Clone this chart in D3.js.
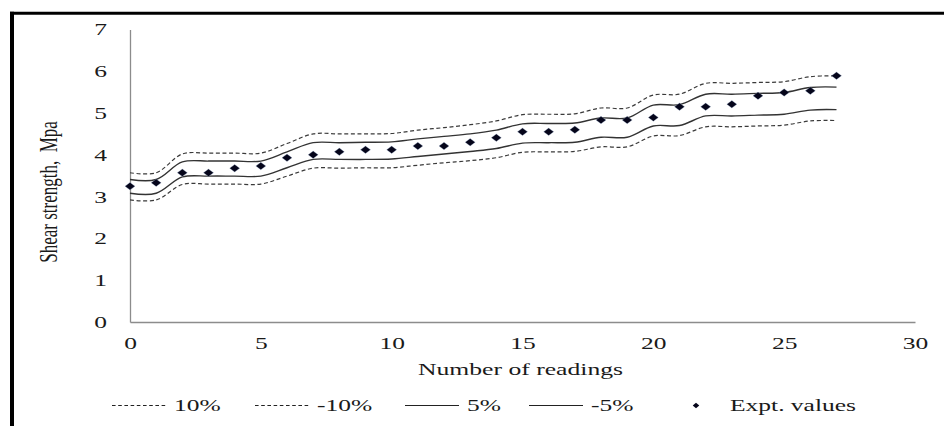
<!DOCTYPE html>
<html>
<head>
<meta charset="utf-8">
<script src="https://cdn.jsdelivr.net/npm/d3@7"></script>
<style>
  html, body { margin: 0; padding: 0; background: #fff; }
  svg { display: block; font-family: "Liberation Serif", "Times New Roman", serif; }
</style>
</head>
<body>
<main></main>
<script>
const readings = d3.range(0, 28);

const exptValues = [3.25, 3.33, 3.57, 3.57, 3.68, 3.73, 3.93, 4.0, 4.07, 4.12, 4.12, 4.21, 4.21, 4.3,
  4.41, 4.55, 4.55, 4.6, 4.83, 4.83, 4.89, 5.15, 5.15, 5.21, 5.41, 5.49, 5.53, 5.89];

const plus10 = [3.57, 3.57, 4.02, 4.04, 4.04, 4.04, 4.27, 4.50, 4.50, 4.50, 4.51, 4.59, 4.65, 4.72,
  4.81, 4.96, 4.97, 4.98, 5.12, 5.12, 5.43, 5.45, 5.71, 5.71, 5.73, 5.75, 5.87, 5.89];
const minus10 = [2.92, 2.92, 3.29, 3.30, 3.30, 3.30, 3.49, 3.68, 3.68, 3.69, 3.69, 3.75, 3.81, 3.86,
  3.93, 4.06, 4.07, 4.08, 4.19, 4.19, 4.45, 4.46, 4.67, 4.67, 4.69, 4.71, 4.81, 4.82];
const plus5 = [3.41, 3.41, 3.83, 3.85, 3.85, 3.85, 4.07, 4.29, 4.29, 4.30, 4.31, 4.38, 4.44, 4.50,
  4.59, 4.74, 4.75, 4.76, 4.88, 4.88, 5.19, 5.20, 5.45, 5.45, 5.47, 5.49, 5.61, 5.62];
const minus5 = [3.08, 3.08, 3.47, 3.49, 3.49, 3.49, 3.69, 3.89, 3.89, 3.89, 3.90, 3.96, 4.02, 4.08,
  4.15, 4.28, 4.29, 4.30, 4.42, 4.42, 4.69, 4.70, 4.93, 4.93, 4.95, 4.97, 5.07, 5.08];

const xTicks = [0, 5, 10, 15, 20, 25, 30];
const yTicks = [0, 1, 2, 3, 4, 5, 6, 7];

const legendItems = [
  { label: '10%', kind: 'dash', x: 112 },
  { label: '-10%', kind: 'dash', x: 255 },
  { label: '5%', kind: 'solid', x: 405 },
  { label: '-5%', kind: 'solid', x: 529 },
  { label: 'Expt. values', kind: 'diamond', x: 690 },
];

// the picture is stretched sideways, text follows that
const stretch = 1.5;

const dimensions = {
  width: 944,
  height: 426,
  margin: { top: 29.4, right: 29, bottom: 104, left: 130 },
};
dimensions.boundedWidth = dimensions.width - (dimensions.margin.left + dimensions.margin.right);
dimensions.boundedHeight = dimensions.height - (dimensions.margin.top + dimensions.margin.bottom);

const xScale = d3.scaleLinear()
  .domain([0, 30])
  .range([dimensions.margin.left, dimensions.margin.left + dimensions.boundedWidth]);
const yScale = d3.scaleLinear()
  .domain([0, 7])
  .range([dimensions.margin.top + dimensions.boundedHeight, dimensions.margin.top]);

const svg = d3.select('main')
  .append('svg')
  .attr('width', dimensions.width)
  .attr('height', dimensions.height)
  .attr('viewBox', [0, 0, dimensions.width, dimensions.height]);

// frame
svg.append('line')
  .attr('x1', 10).attr('x2', dimensions.width)
  .attr('y1', 13.3).attr('y2', 13.3)
  .attr('stroke', '#000').attr('stroke-width', 3);
svg.append('line')
  .attr('x1', 12).attr('x2', 12)
  .attr('y1', 11.8).attr('y2', dimensions.height)
  .attr('stroke', '#000').attr('stroke-width', 4);

// axes
const xAxis = d3.axisBottom(xScale).tickValues(xTicks).tickFormat(d3.format('d'))
  .tickSize(0).tickSizeOuter(0).tickPadding(14.5);
const yAxis = d3.axisLeft(yScale).tickValues(yTicks).tickFormat(d3.format('d'))
  .tickSize(0).tickSizeOuter(0).tickPadding(15.3);

const xAxisGroup = svg.append('g')
  .attr('transform', `translate(0 ${yScale(0)})`)
  .call(xAxis);
const yAxisGroup = svg.append('g')
  .attr('transform', `translate(${xScale(0)} 0)`)
  .call(yAxis);

[xAxisGroup, yAxisGroup].forEach(g => {
  g.attr('font-family', null).attr('font-size', 17);
  g.select('.domain').attr('stroke', '#8c8c8c').attr('stroke-width', 1.3);
  g.selectAll('.tick text')
    .attr('fill', '#1a1a1a')
    .attr('transform', `scale(${stretch} 1)`);
});

// band lines
const line = d3.line()
  .x((d, i) => xScale(readings[i]))
  .y(d => yScale(d))
  .curve(d3.curveCatmullRom.alpha(0.5));

const bands = [
  { values: plus10, dash: '4 2.6' },
  { values: minus10, dash: '4 2.6' },
  { values: plus5, dash: null },
  { values: minus5, dash: null },
];

svg.append('g')
  .selectAll('path')
  .data(bands)
  .enter()
  .append('path')
  .attr('fill', 'none')
  .attr('stroke', d => d.dash ? '#3a3a3a' : '#333')
  .attr('stroke-width', d => d.dash ? 1.2 : 1.4)
  .attr('stroke-dasharray', d => d.dash)
  .attr('d', d => line(d.values));

// expt points
const diamond = (w, h) => `M0 ${-h / 2} L${w / 2} 0 L0 ${h / 2} L${-w / 2} 0 Z`;

svg.append('g')
  .selectAll('path')
  .data(exptValues)
  .enter()
  .append('path')
  .attr('transform', (d, i) => `translate(${xScale(readings[i])} ${yScale(d)})`)
  .attr('d', diamond(10, 7.5))
  .attr('fill', '#05051a')
  .attr('stroke', '#9fb4d6')
  .attr('stroke-width', 0.5)
  .attr('stroke-opacity', 0.6);

// axis titles
svg.append('text')
  .attr('x', 418)
  .attr('y', 375)
  .attr('font-size', 17)
  .attr('fill', '#1a1a1a')
  .attr('textLength', 205)
  .attr('lengthAdjust', 'spacingAndGlyphs')
  .text('Number of readings');

svg.append('text')
  .attr('transform', `translate(57 192) rotate(-90) scale(1 ${stretch})`)
  .attr('text-anchor', 'middle')
  .attr('font-size', 17)
  .attr('fill', '#1a1a1a')
  .style('white-space', 'pre')
  .text('Shear strength,  Mpa');

// legend
const legendY = 411;
const legend = svg.append('g');
const legendGroups = legend.selectAll('g')
  .data(legendItems)
  .enter()
  .append('g')
  .attr('transform', d => `translate(${d.x} ${legendY})`);

legendGroups.filter(d => d.kind !== 'diamond')
  .append('line')
  .attr('x1', 0).attr('x2', 54)
  .attr('y1', -5.5).attr('y2', -5.5)
  .attr('stroke', '#222')
  .attr('stroke-width', 1)
  .attr('stroke-dasharray', d => d.kind === 'dash' ? '3.6 2.6' : null);

legendGroups.filter(d => d.kind === 'diamond')
  .append('path')
  .attr('transform', 'translate(6 -5.5)')
  .attr('d', diamond(6.5, 5.5))
  .attr('fill', '#05051a');

legendGroups
  .append('text')
  .attr('transform', d => `translate(${d.kind === 'diamond' ? 40 : 62} 0) scale(${stretch} 1)`)
  .attr('font-size', 17)
  .attr('fill', '#1a1a1a')
  .text(d => d.label);
</script>
</body>
</html>
